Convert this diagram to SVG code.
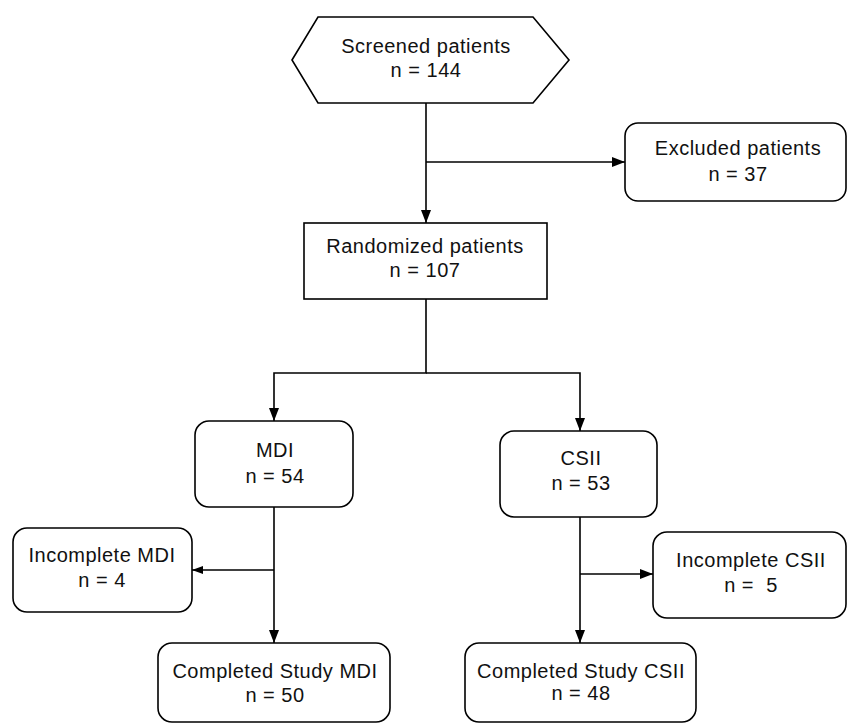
<svg xmlns="http://www.w3.org/2000/svg" width="848" height="724" viewBox="0 0 848 724">
<defs>
<style>
.box{fill:#fff;stroke:#000;stroke-width:1.6}
.t{font-family:"Liberation Sans",Arial,sans-serif;font-size:20px;letter-spacing:0.5px;text-anchor:middle;fill:#111}
.c{fill:none;stroke:#000;stroke-width:1.6}
</style>
<marker id="ah" markerUnits="userSpaceOnUse" markerWidth="14" markerHeight="12" refX="13" refY="5" orient="auto">
<path d="M0,0 L13,5 L0,10 Z" fill="#000"/>
</marker>
<marker id="as" markerUnits="userSpaceOnUse" markerWidth="12" markerHeight="10" refX="11" refY="4" orient="auto">
<path d="M0,0 L11,4 L0,8 Z" fill="#000"/>
</marker>
</defs>
<rect width="848" height="724" fill="#fff"/>
<g id="connectors">
<path class="c" d="M426 103 V223" marker-end="url(#ah)"/>
<path class="c" d="M426 162 H625" marker-end="url(#ah)"/>
<path class="c" d="M426 299 V373 H274 V421" marker-end="url(#ah)"/>
<path class="c" d="M426 373 H580 V431" marker-end="url(#ah)"/>
<path class="c" d="M274 507 V643" marker-end="url(#ah)"/>
<path class="c" d="M274 570 H192" marker-end="url(#as)"/>
<path class="c" d="M580 517 V643" marker-end="url(#ah)"/>
<path class="c" d="M580 574 H653" marker-end="url(#ah)"/>
</g>
<g id="screened">
<polygon class="box" points="292,60 318,17 533,17 569,60 533,103 318,103"/>
<text class="t" x="426" y="53">Screened patients</text>
<text class="t" x="426" y="77">n = 144</text>
</g>
<g id="excluded">
<rect class="box" x="625" y="123" width="221" height="78" rx="13"/>
<text class="t" x="738" y="155">Excluded patients</text>
<text class="t" x="738" y="181">n = 37</text>
</g>
<g id="randomized">
<rect class="box" x="304" y="223" width="243" height="76"/>
<text class="t" x="425" y="253">Randomized patients</text>
<text class="t" x="425" y="277">n = 107</text>
</g>
<g id="mdi">
<rect class="box" x="195" y="421" width="158" height="86" rx="14"/>
<text class="t" x="275" y="457">MDI</text>
<text class="t" x="275" y="483">n = 54</text>
</g>
<g id="csii">
<rect class="box" x="500" y="431" width="157" height="86" rx="14"/>
<text class="t" x="581" y="465">CSII</text>
<text class="t" x="581" y="490">n = 53</text>
</g>
<g id="incomplete-mdi">
<rect class="box" x="13" y="528" width="179" height="84" rx="14"/>
<text class="t" x="102" y="562">Incomplete MDI</text>
<text class="t" x="102" y="587">n = 4</text>
</g>
<g id="incomplete-csii">
<rect class="box" x="653" y="532" width="193" height="86" rx="14"/>
<text class="t" x="751" y="567">Incomplete CSII</text>
<text class="t" x="751" y="592">n =&#160; 5</text>
</g>
<g id="completed-mdi">
<rect class="box" x="158" y="643" width="232" height="79" rx="14"/>
<text class="t" x="275" y="678">Completed Study MDI</text>
<text class="t" x="275" y="702">n = 50</text>
</g>
<g id="completed-csii">
<rect class="box" x="465" y="643" width="231" height="79" rx="14"/>
<text class="t" x="581" y="678">Completed Study CSII</text>
<text class="t" x="581" y="700">n = 48</text>
</g>
</svg>
